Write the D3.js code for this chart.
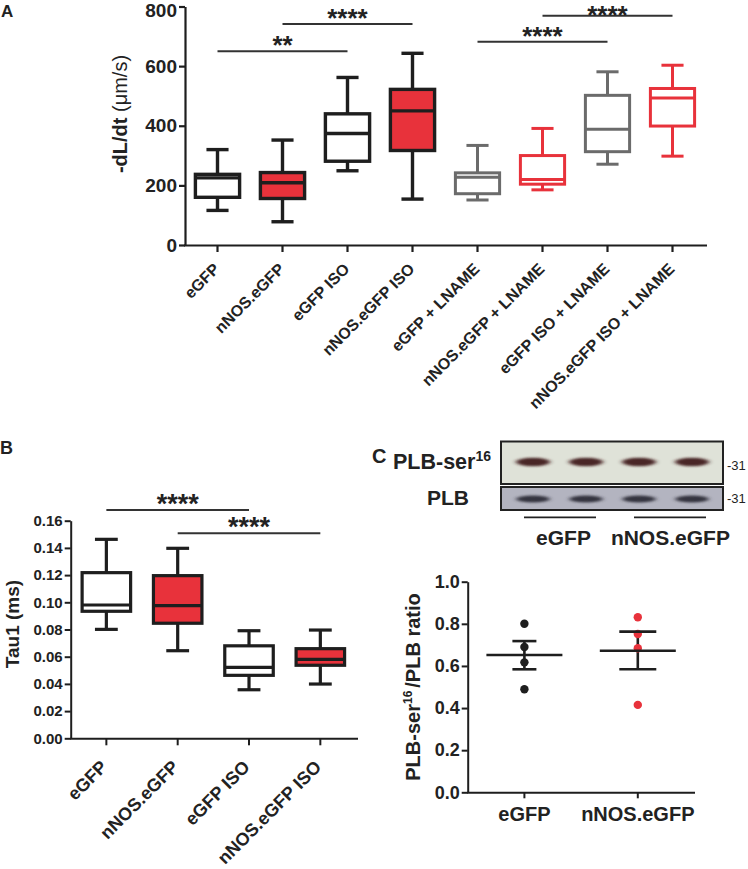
<!DOCTYPE html>
<html><head><meta charset="utf-8">
<script src="https://cdn.jsdelivr.net/npm/d3@7"></script>
<style>
body{margin:0;background:#fff}
svg{display:block}
text{font-family:"Liberation Sans",Arial,Helvetica,sans-serif;fill:#222}
</style>
</head><body>
<svg id="chart" width="748" height="869"></svg>
<script>
// ---------- Panel A data ----------
const categoriesA = ["eGFP","nNOS.eGFP","eGFP ISO","nNOS.eGFP ISO","eGFP + LNAME","nNOS.eGFP + LNAME","eGFP ISO + LNAME","nNOS.eGFP ISO + LNAME"];
const minA    = [116,  78, 249, 154, 151, 185, 271, 298];
const q1A     = [160, 156, 281, 317, 172, 204, 313, 399];
const medianA = [225, 209, 374, 450, 227, 220, 388, 493];
const q3A     = [237, 243, 440, 522, 242, 300, 502, 525];
const maxA    = [320, 352, 562, 643, 334, 391, 581, 603];
const ticksA  = [0, 200, 400, 600, 800];
const sigFromA = [0, 1, 4, 5];
const sigToA   = [2, 3, 6, 7];
const sigLevelA = [650, 741, 682, 769];
const sigLabelA = ["**", "****", "****", "****"];

// ---------- Panel B data ----------
const categoriesB = ["eGFP","nNOS.eGFP","eGFP ISO","nNOS.eGFP ISO"];
const minB    = [0.0801, 0.0644, 0.0357, 0.0399];
const q1B     = [0.0934, 0.0846, 0.0463, 0.0537];
const medianB = [0.0980, 0.0975, 0.0522, 0.0581];
const q3B     = [0.1218, 0.1196, 0.0680, 0.0659];
const maxB    = [0.1463, 0.1397, 0.0791, 0.0796];
const ticksB  = [0, 0.02, 0.04, 0.06, 0.08, 0.10, 0.12, 0.14, 0.16];
const sigFromB = [0, 1];
const sigToB   = [2, 3];
const sigLevelB = [0.1679, 0.1507];
const sigLabelB = ["****", "****"];

// ---------- Panel C data ----------
const categoriesC = ["eGFP","nNOS.eGFP"];
const pointsEGFP = [0.80, 0.69, 0.617, 0.489];
const pointsNNOS = [0.831, 0.752, 0.684, 0.415];
const meanC = [0.652, 0.672];
const semHighC = [0.718, 0.763];
const semLowC  = [0.584, 0.584];
const ticksC = [0, 0.2, 0.4, 0.6, 0.8, 1.0];
const blotLanes = ["eGFP 1","eGFP 2","nNOS 1","nNOS 2"];
const blotGroups = ["eGFP","nNOS.eGFP"];

// ---------- styles ----------
const RED = "#e8323b", GRAY = "#6b6b6b", INK = "#1e1e1e";
const styleA = [
  {s:INK,f:"#fff",w:3.4},{s:INK,f:RED,w:3.4},{s:INK,f:"#fff",w:3.4},{s:INK,f:RED,w:3.4},
  {s:GRAY,f:"#fff",w:3},{s:RED,f:"#fff",w:3},{s:GRAY,f:"#fff",w:3},{s:RED,f:"#fff",w:3}];
const styleB = [{s:INK,f:"#fff",w:3.2},{s:INK,f:RED,w:3.2},{s:INK,f:"#fff",w:3.2},{s:INK,f:RED,w:3.2}];

const svg = d3.select("#chart");
svg.append("rect").attr("width",748).attr("height",869).attr("fill","#fff");

function styleAxis(g, fs, sw){
  g.select(".domain").attr("stroke",INK).attr("stroke-width",sw);
  g.selectAll(".tick line").attr("stroke",INK).attr("stroke-width",sw);
  g.selectAll(".tick text").attr("font-size",fs).attr("font-weight","bold").attr("fill",INK);
}

function drawBoxes(g, x, y, cats, mins, q1s, meds, q3s, maxs, styles, boxFrac, capFrac){
  const bw = x.bandwidth()*boxFrac, cw = x.bandwidth()*capFrac;
  cats.forEach((c,i)=>{
    const cx = x(c) + x.bandwidth()/2, st = styles[i];
    const grp = g.append("g").attr("stroke",st.s).attr("stroke-width",st.w);
    grp.append("line").attr("x1",cx).attr("x2",cx).attr("y1",y(maxs[i])).attr("y2",y(mins[i]));
    grp.append("line").attr("x1",cx-cw/2).attr("x2",cx+cw/2).attr("y1",y(maxs[i])).attr("y2",y(maxs[i]));
    grp.append("line").attr("x1",cx-cw/2).attr("x2",cx+cw/2).attr("y1",y(mins[i])).attr("y2",y(mins[i]));
    grp.append("rect").attr("x",cx-bw/2).attr("width",bw).attr("y",y(q3s[i])).attr("height",y(q1s[i])-y(q3s[i])).attr("fill",st.f);
    grp.append("line").attr("x1",cx-bw/2).attr("x2",cx+bw/2).attr("y1",y(meds[i])).attr("y2",y(meds[i]));
  });
}

function drawSig(g, x, y, cats, from, to, lev, lab, fs){
  from.forEach((f,i)=>{
    const x1 = x(cats[f])+x.bandwidth()/2, x2 = x(cats[to[i]])+x.bandwidth()/2, yy = y(lev[i]);
    g.append("line").attr("x1",x1).attr("x2",x2).attr("y1",yy).attr("y2",yy).attr("stroke","#333").attr("stroke-width",2);
    g.append("text").attr("x",(x1+x2)/2).attr("y",Math.max(yy+3, 24)).attr("text-anchor","middle")
      .attr("font-size",fs).attr("font-weight","bold").attr("fill","#222").text(lab[i]);
  });
}

// ================= Panel A =================
const xA = d3.scaleBand().domain(categoriesA).range([185,705]);
const yA = d3.scaleLinear().domain([0,800]).range([245,6.5]);
const gA = svg.append("g");
const axYA = gA.append("g").attr("transform","translate(185,0)")
  .call(d3.axisLeft(yA).tickValues(ticksA).tickSize(6).tickPadding(2).tickSizeOuter(0));
styleAxis(axYA, 19, 2.2);
axYA.selectAll(".tick text").filter(d=>d===800).attr("dy","0.55em");
const axXA = gA.append("g").attr("transform","translate(0,245)")
  .call(d3.axisBottom(xA).tickSize(7).tickSizeOuter(0).tickFormat(""));
styleAxis(axXA, 16, 2.2);
axXA.select(".domain").attr("d","M184,0.5H707");
categoriesA.forEach(c=>{
  gA.append("text").attr("transform",`translate(${xA(c)+xA.bandwidth()/2+3},270) rotate(-45)`)
    .attr("text-anchor","end").attr("font-size",16).attr("font-weight","bold").text(c);
});
drawBoxes(gA, xA, yA, categoriesA, minA, q1A, medianA, q3A, maxA, styleA, 0.68, 0.34);
drawSig(gA, xA, yA, categoriesA, sigFromA, sigToA, sigLevelA, sigLabelA, 26);
gA.append("text").attr("transform","translate(127,114) rotate(-90)").attr("text-anchor","middle")
  .attr("font-size",20).attr("font-weight","bold")
  .call(t=>{t.append("tspan").text("-dL/dt ");t.append("tspan").attr("font-weight","normal").text("(\u03bcm/s)");});
svg.append("text").attr("x",1).attr("y",17).attr("font-size",17).attr("font-weight","bold").text("A");

// ================= Panel B =================
const xB = d3.scaleBand().domain(categoriesB).range([70.7,356]);
const yB = d3.scaleLinear().domain([0,0.16]).range([738.3,520.7]);
const gB = svg.append("g");
const axYB = gB.append("g").attr("transform","translate(70.7,0)")
  .call(d3.axisLeft(yB).tickValues(ticksB).tickFormat(d3.format(".2f")).tickSize(6).tickPadding(2).tickSizeOuter(0));
styleAxis(axYB, 15, 2);
const axXB = gB.append("g").attr("transform","translate(0,738.3)")
  .call(d3.axisBottom(xB).tickSize(7).tickSizeOuter(0).tickFormat(""));
styleAxis(axXB, 16, 2);
axXB.select(".domain").attr("d","M70,0.5H358");
categoriesB.forEach(c=>{
  gB.append("text").attr("transform",`translate(${xB(c)+xB.bandwidth()/2+2},768) rotate(-45)`)
    .attr("text-anchor","end").attr("font-size",18).attr("font-weight","bold").text(c);
});
drawBoxes(gB, xB, yB, categoriesB, minB, q1B, medianB, q3B, maxB, styleB, 0.68, 0.32);
drawSig(gB, xB, yB, categoriesB, sigFromB, sigToB, sigLevelB, sigLabelB, 27);
gB.append("text").attr("transform","translate(19,624) rotate(-90)").attr("text-anchor","middle")
  .attr("font-size",19).attr("font-weight","bold").text("Tau1 (ms)");
svg.append("text").attr("x",0).attr("y",454).attr("font-size",18).attr("font-weight","bold").text("B");

// ================= Panel C (blot) =================
const gBlot = svg.append("g");
svg.append("text").attr("x",372).attr("y",463).attr("font-size",20).attr("font-weight","bold").text("C");
const defs = svg.append("defs");
defs.append("filter").attr("id","blur").attr("x","-50%").attr("y","-100%").attr("width","200%").attr("height","300%")
  .append("feGaussianBlur").attr("stdDeviation","2.4 1.3");
gBlot.append("rect").attr("x",501).attr("y",441.5).attr("width",222).attr("height",42.5)
  .attr("fill","#dfe2d8").attr("stroke","#222").attr("stroke-width",2);
gBlot.append("rect").attr("x",501).attr("y",487).attr("width",222).attr("height",23)
  .attr("fill","#b3b4c0").attr("stroke","#222").attr("stroke-width",2);
const lane = d3.scalePoint().domain(blotLanes).range([533,692]);
blotLanes.forEach(l=>{
  gBlot.append("ellipse").attr("cx",lane(l)).attr("cy",462).attr("rx",17).attr("ry",4.2)
    .attr("fill","#4a2526").attr("filter","url(#blur)");
  gBlot.append("ellipse").attr("cx",lane(l)).attr("cy",499).attr("rx",16.5).attr("ry",3.6)
    .attr("fill","#34343f").attr("filter","url(#blur)");
});
const grpX = d3.scaleBand().domain(blotGroups).range([505,725]);
blotGroups.forEach(gname=>{
  const cx = grpX(gname)+grpX.bandwidth()/2;
  gBlot.append("line").attr("x1",cx-36).attr("x2",cx+36).attr("y1",517.3).attr("y2",517.3).attr("stroke","#222").attr("stroke-width",1.8);
});
gBlot.append("text").attr("x",563.5).attr("y",545).attr("text-anchor","middle").attr("font-size",21).attr("font-weight","bold").text("eGFP");
gBlot.append("text").attr("x",670.4).attr("y",545).attr("text-anchor","middle").attr("font-size",21).attr("font-weight","bold").text("nNOS.eGFP");
gBlot.append("text").attr("x",491).attr("y",469).attr("text-anchor","end").attr("font-size",21.5).attr("font-weight","bold")
  .call(t=>{t.append("tspan").text("PLB-ser");t.append("tspan").attr("font-size",14).attr("dy",-8).text("16");});
gBlot.append("text").attr("x",469).attr("y",505).attr("text-anchor","end").attr("font-size",21).attr("font-weight","bold").text("PLB");
gBlot.append("text").attr("x",727).attr("y",470).attr("font-size",13).text("-31");
gBlot.append("text").attr("x",727).attr("y",503).attr("font-size",13).text("-31");

// ================= Panel C (scatter) =================
const xC = d3.scaleBand().domain(categoriesC).range([467.7,694.5]);
const yC = d3.scaleLinear().domain([0,1]).range([792.3,581.7]);
const gC = svg.append("g");
const axYC = gC.append("g").attr("transform","translate(467.7,0)")
  .call(d3.axisLeft(yC).tickValues(ticksC).tickFormat(d3.format(".1f")).tickSize(6).tickPadding(2).tickSizeOuter(0));
styleAxis(axYC, 18, 2);
const axXC = gC.append("g").attr("transform","translate(0,792.3)")
  .call(d3.axisBottom(xC).tickSize(6).tickPadding(9).tickSizeOuter(0));
styleAxis(axXC, 20, 2);
axXC.select(".domain").attr("d","M467,0.5H695");
const pointSets = [pointsEGFP, pointsNNOS];
const ptColor = ["#1e1e1e", RED];
const capW = [24, 37];
categoriesC.forEach((c,i)=>{
  const cx = xC(c)+xC.bandwidth()/2;
  gC.append("line").attr("x1",cx).attr("x2",cx).attr("y1",yC(semHighC[i])).attr("y2",yC(semLowC[i])).attr("stroke",INK).attr("stroke-width",2.6);
  pointSets[i].forEach(v=>{
    gC.append("circle").attr("cx",cx).attr("cy",yC(v)).attr("r",4.2).attr("fill",ptColor[i]);
  });
  gC.append("line").attr("x1",cx-38).attr("x2",cx+38).attr("y1",yC(meanC[i])).attr("y2",yC(meanC[i])).attr("stroke",INK).attr("stroke-width",2.4);
  [semHighC[i], semLowC[i]].forEach(v=>{
    gC.append("line").attr("x1",cx-capW[i]/2).attr("x2",cx+capW[i]/2).attr("y1",yC(v)).attr("y2",yC(v)).attr("stroke",INK).attr("stroke-width",2.6);
  });
});
gC.append("text").attr("transform","translate(420,687) rotate(-90)").attr("text-anchor","middle")
  .attr("font-size",20).attr("font-weight","bold")
  .call(t=>{
    t.append("tspan").text("PLB-ser");
    t.append("tspan").attr("font-size",12).attr("dy",-8).text("16");
    t.append("tspan").attr("dy",8).attr("dx",3).text("/PLB ratio");
  });
</script>
</body></html>
